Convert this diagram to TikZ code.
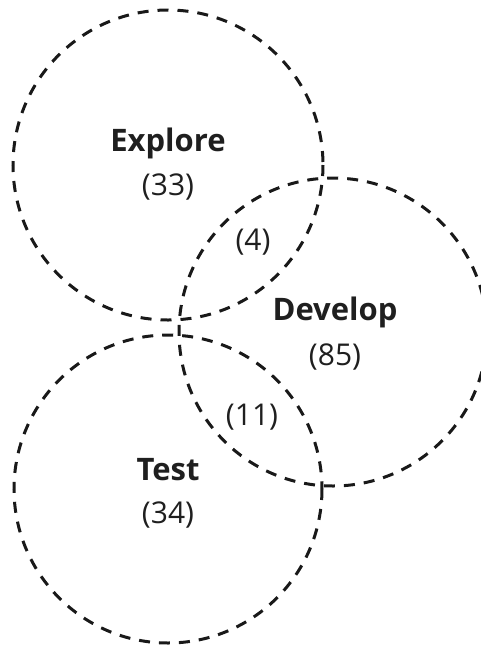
\documentclass[tikz,border=0pt]{standalone}
\usepackage{fontspec}
\setmainfont{Open Sans}
\usepackage{tikz}

\tikzset{
  ring/.style={draw=black!90,line width=3pt,dash pattern=on 11pt off 9pt},
  title/.style={font=\fontsize{31}{36}\selectfont\bfseries,text=black!88},
  count/.style={font=\fontsize{30}{36}\selectfont,text=black!88}
}

\begin{document}
\begin{tikzpicture}[x=1pt,y=-1pt]
\useasboundingbox (0,0) rectangle (481,649);
\begin{scope}
    \clip (0,0) rectangle (481,649);
    \draw[ring] (168,165) circle(155);
    \draw[ring] (333,332) circle(154);
    \draw[ring] (168,489) circle(154);
\end{scope}

\node[title] (explore) at (168,143) {Explore};
\node[count] (exploren) at (168,187) {(33)};
\node[count] (ed) at (253,242) {(4)};
\node[title] (develop) at (335,312) {Develop};
\node[count] (developn) at (335,357) {(85)};
\node[count] (dt) at (252,417) {(11)};
\node[title] (test) at (168,470) {Test};
\node[count] (testn) at (168,515) {(34)};
\end{tikzpicture}
\end{document}
